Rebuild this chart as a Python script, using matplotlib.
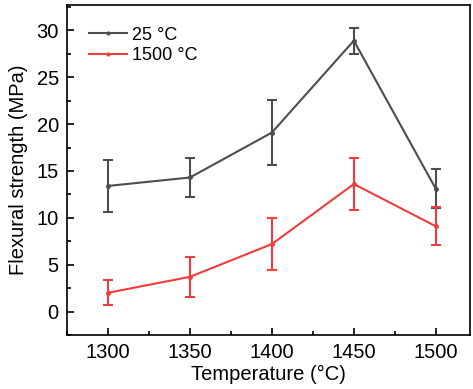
import matplotlib
matplotlib.use("Agg")
import matplotlib.pyplot as plt
from matplotlib.lines import Line2D
from matplotlib.ticker import MultipleLocator

plt.rcParams['font.family'] = ['Liberation Sans', 'DejaVu Sans']

temps = [1300, 1350, 1400, 1450, 1500]
strength_25 = [13.4, 14.3, 19.1, 28.9, 13.1]
err_25 = [2.8, 2.1, 3.5, 1.4, 2.1]
strength_1500 = [2.0, 3.7, 7.2, 13.6, 9.1]
err_1500 = [1.35, 2.1, 2.8, 2.8, 2.0]

c_25 = '#4d4d4d'
c_1500 = '#f03c3c'

fig = plt.figure(figsize=(4.73, 3.89), dpi=100)
ax = fig.add_axes([0.142, 0.139, 0.852, 0.848])

ax.errorbar(temps, strength_25, yerr=err_25, color=c_25, lw=1.5,
            marker='o', ms=2.5, capsize=3.5, capthick=1.5, elinewidth=1.5)
ax.errorbar(temps, strength_1500, yerr=err_1500, color=c_1500, lw=1.5,
            marker='o', ms=2.5, capsize=3.5, capthick=1.5, elinewidth=1.5)

ax.set_xlim(1275, 1521)
ax.set_ylim(-2.5, 32.7)
ax.xaxis.set_major_locator(MultipleLocator(50))
ax.xaxis.set_minor_locator(MultipleLocator(25))
ax.yaxis.set_major_locator(MultipleLocator(5))
ax.yaxis.set_minor_locator(MultipleLocator(2.5))
ax.tick_params(which='both', direction='in', labelsize=14.5, width=1.2)
ax.tick_params(which='major', length=5, pad=6)
ax.tick_params(which='minor', length=3)
for s in ax.spines.values():
    s.set_linewidth(1.2)

ax.set_xlabel('Temperature (°C)', fontsize=14.5, labelpad=2)
ax.set_ylabel('Flexural strength (MPa)', fontsize=14.5, labelpad=6)

handles = [Line2D([], [], color=c_25, lw=1.5, marker='o', ms=2),
           Line2D([], [], color=c_1500, lw=1.5, marker='o', ms=2)]
ax.legend(handles, ['25 °C', '1500 °C'], loc='upper left', frameon=False,
          fontsize=13, handlelength=2.1, borderaxespad=0.8,
          handletextpad=0.3, labelspacing=0.2)

fig.savefig('out.png', dpi=100)
